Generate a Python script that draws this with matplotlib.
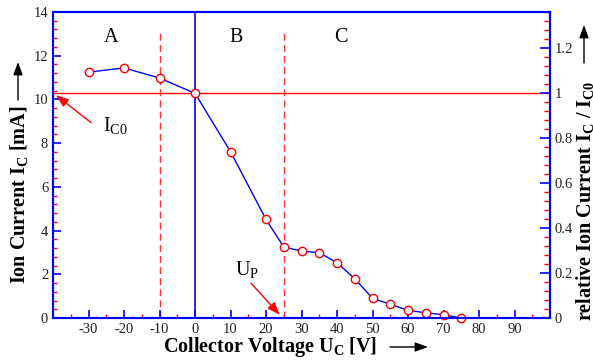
import numpy as np
import matplotlib.pyplot as plt
import matplotlib as mpl

mpl.rcParams['font.family'] = 'Liberation Serif'
mpl.rcParams['mathtext.fontset'] = 'custom'
mpl.rcParams['mathtext.rm'] = 'Liberation Serif'
mpl.rcParams['mathtext.it'] = 'Liberation Serif:italic'
mpl.rcParams['mathtext.bf'] = 'Liberation Serif:bold'
mpl.rcParams['axes.unicode_minus'] = False

# measured data
voltage = [-30, -20, -10, 0, 10, 20, 25, 30, 35, 40, 45, 50, 55, 60, 65, 70, 75]
current = [11.25, 11.44, 10.98, 10.28, 7.61, 4.51, 3.25, 3.06, 2.99, 2.53,
           1.80, 0.90, 0.63, 0.35, 0.24, 0.15, 0.0]
i_c0 = 10.28
region_bounds = [-10, 25]
region_labels = ['A', 'B', 'C']
region_label_x = [-23.7, 11.7, 41.0]

blue = '#0000ff'
red = '#ff0000'

fig = plt.figure(figsize=(5.93, 3.6), dpi=100)
ax = fig.add_axes([53/593, 42/360, 497/593, 306/360])

ax.axhline(i_c0, color=red, lw=1.0, zorder=1)
ax.axvline(0, color=blue, lw=1.2, zorder=1)
for xb in region_bounds:
    ax.plot([xb, xb], [0, 13.05], color=red, lw=1.0, ls=(0, (5, 3)), alpha=0.8, zorder=1)

ax.plot(voltage, current, color=blue, lw=1.0, marker='o', ms=6,
        mfc='white', mec=red, mew=1.0, zorder=3, clip_on=False)

for xl, lab in zip(region_label_x, region_labels):
    ax.text(xl, 12.85, lab, fontsize=14.5, ha='center', va='center')

# annotations with red arrows
head = '-|>,head_length=0.55,head_width=0.2'
red_arrow = dict(arrowstyle=head, color=red, lw=1.0, mutation_scale=14,
                 shrinkA=0, shrinkB=0)
ax.text(-22.5, 8.8, r'I$_{\mathrm{C0}}$', fontsize=14.5, ha='center', va='center')
ax.annotate('', xy=(-39.2, 10.2), xytext=(-29.2, 8.93), arrowprops=red_arrow)
ax.text(14.6, 2.2, r'U$_{\mathrm{P}}$', fontsize=14.5, ha='center', va='center')
ax.annotate('', xy=(23.9, 0.14), xytext=(15.8, 1.59), arrowprops=red_arrow)

ax.set_xlim(-40, 100)
ax.set_ylim(0, 14)
ax.set_xticks(np.arange(-30, 100, 10))
ax.set_xticks(np.arange(-35, 100, 5), minor=True)
ax.set_yticks(np.arange(0, 15, 2))
ax.set_yticks(np.arange(0, 14.01, 0.4), minor=True)
ax.tick_params(which='both', direction='in', top=False, right=False,
               labelsize=10.5, labelcolor='#222222')
ax.tick_params(which='major', length=6, width=1.2, color=blue)
ax.tick_params(which='minor', length=3, width=1.0, color=red)
for s in ax.spines.values():
    s.set_color(blue)
    s.set_linewidth(1.5)

ax2 = ax.twinx()
ax2.set_ylim(0, 14 / i_c0)
ax2.set_yticks([0, 0.2, 0.4, 0.6, 0.8, 1.0, 1.2])
ax2.set_yticklabels(['0', '0.2', '0.4', '0.6', '0.8', '1', '1.2'])
ax2.set_yticks(np.arange(0, 14 / i_c0, 0.04), minor=True)
ax2.tick_params(which='both', direction='in', labelsize=10.5, labelcolor='#222222')
ax2.tick_params(which='major', length=7, width=1.2, color=blue)
ax2.tick_params(which='minor', length=4, width=1.0, color=red)
for s in ax2.spines.values():
    s.set_color(blue)
    s.set_linewidth(1.5)

fig.text(270/593, 1 - 347/360, r'Collector Voltage U$_\mathbf{C}$ [V]',
         fontsize=14.5, fontweight='bold', ha='center', va='center')
fig.text(19/593, 1 - 195/360, r'Ion Current I$_\mathbf{C}$ [mA]',
         fontsize=14.5, fontweight='bold', ha='center', va='center', rotation=90)
fig.text(585/593, 1 - 201/360, r'relative Ion Current I$_\mathbf{C}$ / I$_\mathbf{C0}$',
         fontsize=14.5, fontweight='bold', ha='center', va='center', rotation=90)

arrow_kw = dict(arrowstyle=head, color='black', lw=1.0, mutation_scale=14,
                shrinkA=0, shrinkB=0)
fig.patches.append(mpl.patches.FancyArrowPatch((390/593, 1 - 347/360), (428/593, 1 - 347/360),
                                               transform=fig.transFigure, **arrow_kw))
fig.patches.append(mpl.patches.FancyArrowPatch((18/593, 1 - 100/360), (18/593, 1 - 62/360),
                                               transform=fig.transFigure, **arrow_kw))
fig.patches.append(mpl.patches.FancyArrowPatch((584/593, 1 - 63/360), (584/593, 1 - 25/360),
                                               transform=fig.transFigure, **arrow_kw))

fig.savefig('out.png', dpi=100)
